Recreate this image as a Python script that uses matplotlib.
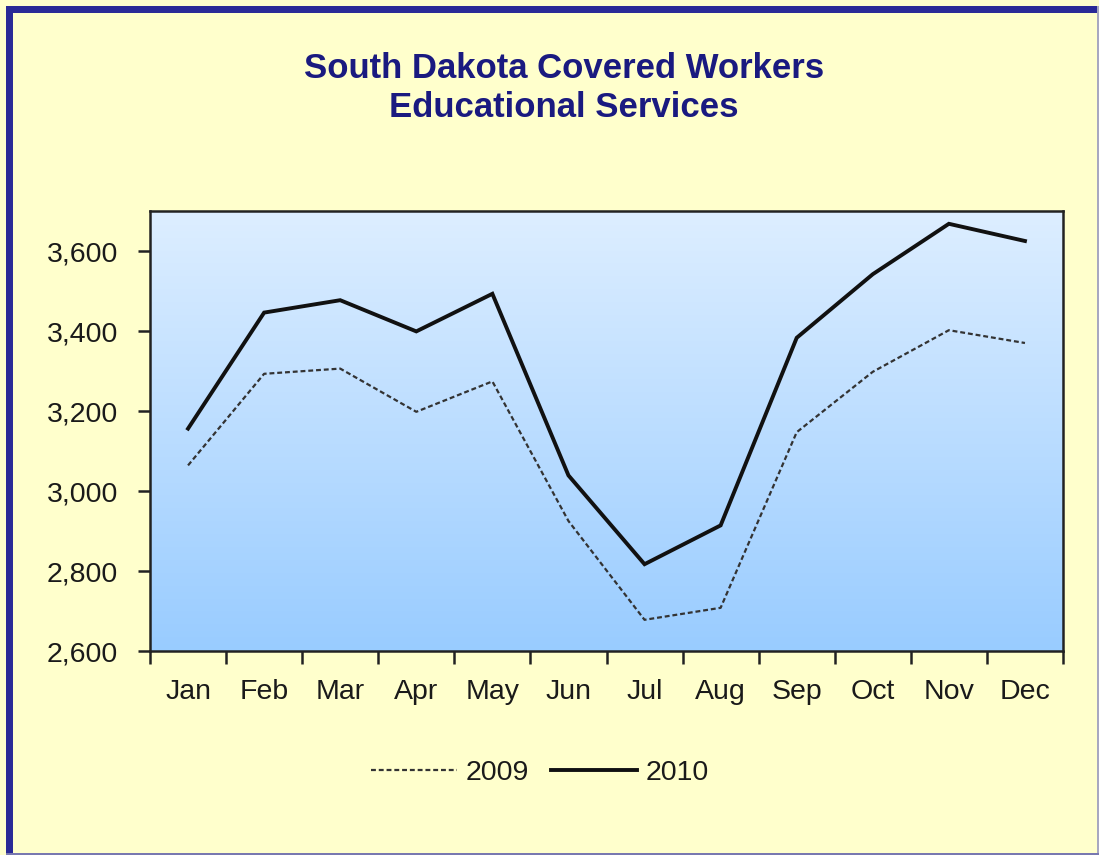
import numpy as np
import matplotlib
matplotlib.use("Agg")
import matplotlib.pyplot as plt
from matplotlib.patches import Rectangle
from matplotlib.colors import LinearSegmentedColormap

plt.rcParams['font.family'] = ['Liberation Sans', 'DejaVu Sans']

months = ["Jan", "Feb", "Mar", "Apr", "May", "Jun", "Jul", "Aug", "Sep", "Oct", "Nov", "Dec"]
workers_2009 = [3064, 3293, 3306, 3198, 3274, 2925, 2678, 2708, 3147, 3298, 3402, 3370]
workers_2010 = [3156, 3446, 3477, 3399, 3493, 3039, 2817, 2914, 3383, 3542, 3668, 3625]
yticks = [2600, 2800, 3000, 3200, 3400, 3600]
title = "South Dakota Covered Workers\nEducational Services"

W, H = 1099, 855
fig = plt.figure(figsize=(W / 100, H / 100), dpi=100, facecolor="#FFFFCC")

# frame of the chart area
fig.patches.append(Rectangle((6 / W, 1 - 13 / H), (W - 6) / W, 7 / H, transform=fig.transFigure,
                             facecolor="#2A2A96", edgecolor="none"))
fig.patches.append(Rectangle((6 / W, 2 / H), 7 / W, 1 - 8 / H, transform=fig.transFigure,
                             facecolor="#2A2A96", edgecolor="none"))
fig.patches.append(Rectangle((1097 / W, 2 / H), 2 / W, 1 - 8 / H, transform=fig.transFigure,
                             facecolor="#A8A8C0", edgecolor="none"))
fig.patches.append(Rectangle((6 / W, 0), (W - 6) / W, 2 / H, transform=fig.transFigure,
                             facecolor="#7878B0", edgecolor="none"))

ax = fig.add_axes([150 / W, 1 - 651 / H, (1063 - 150) / W, (651 - 211) / H])

x = np.arange(len(months))
ax.set_xlim(-0.5, len(months) - 0.5)

# gradient background: light at top, deeper blue at bottom
cmap = LinearSegmentedColormap.from_list("bg", ["#DDEEFF", "#99CCFF"])
grad = np.linspace(0, 1, 256).reshape(-1, 1)
ax.imshow(grad, aspect="auto", cmap=cmap, extent=(-0.5, len(months) - 0.5, 2600, 3700),
          origin="upper", zorder=0)
ax.set_ylim(2600, 3700)

l1, = ax.plot(x, workers_2009, color="#333333", lw=1.6, linestyle=(0, (2.2, 1.3)), zorder=3)
l2, = ax.plot(x, workers_2010, color="#111111", lw=2.8, zorder=4, solid_joinstyle="miter")

ax.set_yticks(yticks)
ax.set_yticklabels([f"{v:,}" for v in yticks])
ax.set_xticks(x)
ax.set_xticklabels(months)
ax.set_xticks(np.arange(-0.5, len(months)), minor=True)
ax.tick_params(axis="x", which="major", length=0, pad=20, labelsize=20.5, labelcolor="#1A1A1A")
ax.tick_params(axis="x", which="minor", length=9, width=1.8, direction="out", color="#222222")
ax.tick_params(axis="y", length=9, width=1.8, direction="out", pad=14, labelsize=20.5,
               labelcolor="#1A1A1A", color="#222222")
for s in ax.spines.values():
    s.set_linewidth(1.8)
    s.set_color("#222222")

fig.text(564 / W, 1 - 88 / H, title, ha="center", va="center", fontsize=25, fontweight="bold",
         color="#1A1A80", linespacing=1.2)

fig.legend([l1, l2], ["2009", "2010"], loc="center", bbox_to_anchor=(540 / W, 1 - 773 / H),
           ncol=2, frameon=False, fontsize=20.5, handlelength=3.0, handletextpad=0.3,
           columnspacing=0.8, labelcolor="#1A1A1A")

fig.savefig("out.png", dpi=100, facecolor=fig.get_facecolor())
